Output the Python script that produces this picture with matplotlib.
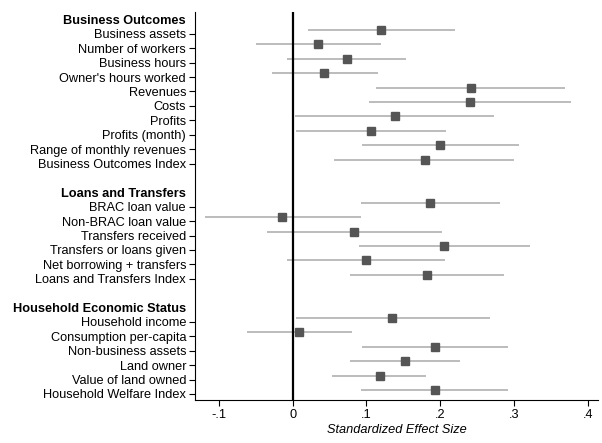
import matplotlib.pyplot as plt
import numpy as np

plt.rcParams['font.family'] = ['Liberation Sans', 'DejaVu Sans']

# section headers
groups = ['Business Outcomes', 'Loans and Transfers', 'Household Economic Status']

business_labels = ['Business assets', 'Number of workers', 'Business hours',
                   "Owner's hours worked", 'Revenues', 'Costs', 'Profits',
                   'Profits (month)', 'Range of monthly revenues',
                   'Business Outcomes Index']
business_est = [0.120, 0.034, 0.073, 0.043, 0.241, 0.240, 0.138, 0.106, 0.200, 0.179]
business_lo = [0.021, -0.050, -0.007, -0.028, 0.113, 0.104, 0.003, 0.004, 0.094, 0.056]
business_hi = [0.220, 0.119, 0.153, 0.115, 0.369, 0.377, 0.273, 0.208, 0.307, 0.300]

loans_labels = ['BRAC loan value', 'Non-BRAC loan value', 'Transfers received',
                'Transfers or loans given', 'Net borrowing + transfers',
                'Loans and Transfers Index']
loans_est = [0.186, -0.014, 0.083, 0.205, 0.100, 0.182]
loans_lo = [0.093, -0.119, -0.035, 0.090, -0.007, 0.078]
loans_hi = [0.280, 0.092, 0.202, 0.321, 0.206, 0.286]

house_labels = ['Household income', 'Consumption per-capita', 'Non-business assets',
                'Land owner', 'Value of land owned', 'Household Welfare Index']
house_est = [0.135, 0.009, 0.193, 0.152, 0.118, 0.193]
house_lo = [0.004, -0.062, 0.094, 0.078, 0.054, 0.093]
house_hi = [0.267, 0.080, 0.292, 0.226, 0.181, 0.292]

sections = [(business_labels, business_est, business_lo, business_hi),
            (loans_labels, loans_est, loans_lo, loans_hi),
            (house_labels, house_est, house_lo, house_hi)]

# build the row layout: header, items, blank row between sections
tick_pos = []
tick_lab = []
header_idx = []
ys, est, lo, hi = [], [], [], []
row = 0
for g, (labs, e, l, h) in zip(groups, sections):
    header_idx.append(len(tick_lab))
    tick_pos.append(row)
    tick_lab.append(g)
    row += 1
    for i in range(len(labs)):
        tick_pos.append(row)
        tick_lab.append(labs[i])
        ys.append(row)
        est.append(e[i])
        lo.append(l[i])
        hi.append(h[i])
        row += 1
    row += 1
last = ys[-1]

ys = np.array(ys)
off = 0.27  # labels sit slightly below the markers in the original

fig = plt.figure(figsize=(6.02, 4.43), dpi=100)
ax = fig.add_axes([0.324, 0.097, 0.669, 0.876])

ax.hlines(ys, lo, hi, color='#a9a9a9', lw=1.1, zorder=1)
ax.plot(est, ys, 's', color='#555555', ms=6, zorder=3)
ax.axvline(0, color='black', lw=1.6, zorder=2)

ax.set_ylim(last + 0.69, -0.25)
ax.set_xlim(-0.132, 0.413)
ax.set_yticks(np.array(tick_pos) + off)
ax.set_yticklabels(tick_lab, fontsize=9.2)
ticks = ax.yaxis.get_major_ticks()
labels = ax.get_yticklabels()
for i in header_idx:
    ticks[i].tick1line.set_visible(False)
    labels[i].set_fontweight('bold')

ax.set_xticks([-0.1, 0, 0.1, 0.2, 0.3, 0.4])
ax.set_xticklabels(['-.1', '0', '.1', '.2', '.3', '.4'], fontsize=9.2)
ax.tick_params(length=4.5, width=0.8, pad=2)
ax.set_xlabel('Standardized Effect Size', fontsize=9.2, style='italic', labelpad=2)

ax.spines['top'].set_visible(False)
ax.spines['right'].set_visible(False)

plt.savefig('out.png', dpi=100)
